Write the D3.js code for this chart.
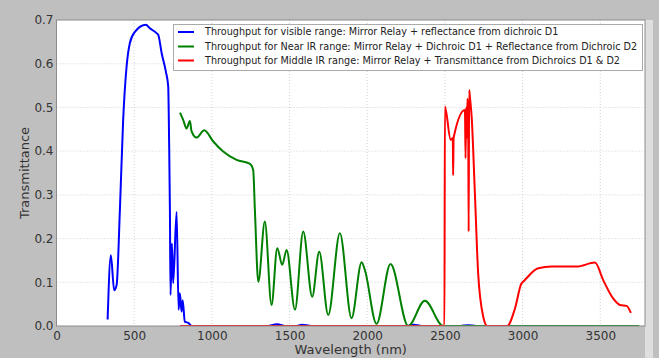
<!DOCTYPE html>
<html><head><meta charset="utf-8">
<script src="https://cdn.jsdelivr.net/npm/d3@7"></script>
<style>body{margin:0;background:#bfbfbf;} svg{display:block;font-family:"DejaVu Sans",sans-serif;}</style>
</head><body>
<svg id="c" width="659" height="358"></svg>
<script>
// Data (wavelength nm, transmittance)
const blueVisible = [[329,0.015],[350,0.162],[371,0.082],[387,0.094],[408,0.265],[429,0.471],[451,0.593],[472,0.647],[505,0.673],[575,0.689],[601,0.681],[644,0.670],[655,0.666],[677,0.624],[704,0.582],[719,0.548],[725,0.418],[730,0.265],[734,0.071],[743,0.189],[751,0.098],[773,0.261],[786,0.037],[794,0.075],[805,0.033],[812,0.059],[826,0.010],[848,0.007],[872,0.0],[1350,0.0],[1420,0.004],[1480,0.0],[1540,0.0],[1580,0.003],[1640,0.0],[2250,0.0],[2300,0.003],[2350,0.0],[2600,0.0],[2650,0.002],[2700,0.0],[3750,0.0]];
const greenNearIR = [[795,0.488],[816,0.471],[837,0.452],[859,0.469],[869,0.446],[902,0.431],[951,0.448],[1009,0.422],[1073,0.399],[1159,0.380],[1245,0.371],[1266,0.357],[1277,0.265],[1299,0.101],[1341,0.239],[1384,0.048],[1421,0.178],[1453,0.140],[1481,0.174],[1535,0.037],[1588,0.216],[1646,0.067],[1691,0.170],[1749,0.025],[1824,0.212],[1899,0.018],[1964,0.146],[1985,0.128],[2060,0.005],[2150,0.142],[2264,0.0],[2371,0.058],[2489,0.0],[3751,0.0]];
const redMiddleIR = [[794,0.0],[2497,0.0],[2500,0.502],[2537,0.426],[2551,0.43],[2553,0.345],[2556,0.43],[2629,0.494],[2633,0.384],[2637,0.50],[2641,0.43],[2645,0.52],[2650,0.47],[2653,0.216],[2656,0.54],[2662,0.52],[2672,0.48],[2693,0.304],[2714,0.121],[2747,0.021],[2772,0.0],[2901,0.0],[2951,0.040],[2994,0.098],[3000,0.100],[3101,0.132],[3187,0.136],[3348,0.136],[3466,0.145],[3519,0.105],[3583,0.063],[3627,0.048],[3670,0.046],[3697,0.030]];
const seriesNames = ["Throughput for visible range: Mirror Relay + reflectance from dichroic D1",
  "Throughput for Near IR range: Mirror Relay + Dichroic D1 + Reflectance from Dichroic D2",
  "Throughput for Middle IR range: Mirror Relay + Transmittance from Dichroics D1 & D2"];
const seriesColors = ["#0000ff","#008000","#ff0000"];
const xTicks = [0,500,1000,1500,2000,2500,3000,3500];
const yTicks = [0,0.1,0.2,0.3,0.4,0.5,0.6,0.7];

const svg = d3.select("#c");
const L=56.5, R=645, T=20, B=326;
const x = d3.scaleLinear().domain([0,3788]).range([L,R]);
const y = d3.scaleLinear().domain([0,0.7]).range([B,T]);

svg.append("rect").attr("width",659).attr("height",358).attr("fill","#bfbfbf");
svg.append("rect").attr("x",R).attr("y",T).attr("width",8).attr("height",338).attr("fill","#dedede");
svg.append("rect").attr("x",L).attr("y",T).attr("width",R-L).attr("height",B-T).attr("fill","#ffffff");

// grid
const g = svg.append("g");
g.selectAll(".gx").data(xTicks.slice(1)).join("line")
  .attr("x1",d=>x(d)).attr("x2",d=>x(d)).attr("y1",T).attr("y2",B)
  .attr("stroke","#c8c8c8").attr("stroke-width",0.8).attr("stroke-dasharray","1,2");
g.selectAll(".gy").data(yTicks.slice(1,-1)).join("line")
  .attr("y1",d=>y(d)).attr("y2",d=>y(d)).attr("x1",L).attr("x2",R)
  .attr("stroke","#c8c8c8").attr("stroke-width",0.8).attr("stroke-dasharray","1,2");

// lines
svg.append("clipPath").attr("id","cp").append("rect").attr("x",L).attr("y",T-2).attr("width",R-L).attr("height",B-T+2);
const line = d3.line().x(d=>x(d[0])).y(d=>y(d[1])).curve(d3.curveMonotoneX);
[blueVisible,greenNearIR,redMiddleIR].forEach((s,i)=>{
  svg.append("path").datum(s).attr("d",line).attr("fill","none")
    .attr("stroke",seriesColors[i]).attr("stroke-width",2).attr("stroke-linejoin","round")
    .attr("clip-path","url(#cp)");
});

// frame
svg.append("rect").attr("x",L).attr("y",T).attr("width",R-L).attr("height",B-T)
  .attr("fill","none").attr("stroke","#8c8c8c").attr("stroke-width",1);

// axes labels
const ax = d3.axisBottom(x).tickValues(xTicks).tickSize(0).tickPadding(5).tickFormat(d3.format("d"));
const gxA = svg.append("g").attr("transform",`translate(0,${B})`).call(ax);
gxA.select(".domain").remove();
gxA.selectAll("text").attr("font-size",12).attr("fill","#333").attr("font-family","DejaVu Sans");
const ay = d3.axisLeft(y).tickValues(yTicks).tickSize(0).tickPadding(3).tickFormat(d3.format(".1f"));
const gyA = svg.append("g").attr("transform",`translate(${L},0)`).call(ay);
gyA.select(".domain").remove();
gyA.selectAll("text").attr("font-size",12).attr("fill","#333").attr("font-family","DejaVu Sans");

svg.append("text").attr("x",(L+R)/2).attr("y",354).attr("text-anchor","middle")
  .attr("font-size",13).attr("fill","#333").text("Wavelength (nm)");
svg.append("text").attr("transform",`translate(29,${(T+B)/2}) rotate(-90)`).attr("text-anchor","middle")
  .attr("font-size",13).attr("fill","#333").text("Transmittance");

// legend
const lg = svg.append("g");
lg.append("rect").attr("x",173.5).attr("y",24.5).attr("width",469).attr("height",46)
  .attr("fill","#ffffff").attr("stroke","#aaaaaa").attr("stroke-width",1);
const rowsY=[32,46.5,60.5];
seriesNames.forEach((n,i)=>{
  lg.append("line").attr("x1",178).attr("x2",194).attr("y1",rowsY[i]).attr("y2",rowsY[i])
    .attr("stroke",seriesColors[i]).attr("stroke-width",2);
  lg.append("text").attr("class","lt").attr("x",205).attr("y",rowsY[i]).attr("dy","0.35em")
    .attr("font-size",10).attr("fill","#222").text(n);
});
const longest = lg.selectAll(".lt").nodes()[1];
const w = longest.getComputedTextLength();
const fs = 10*433/w;
lg.selectAll(".lt").attr("font-size",fs);
</script>
</body></html>
